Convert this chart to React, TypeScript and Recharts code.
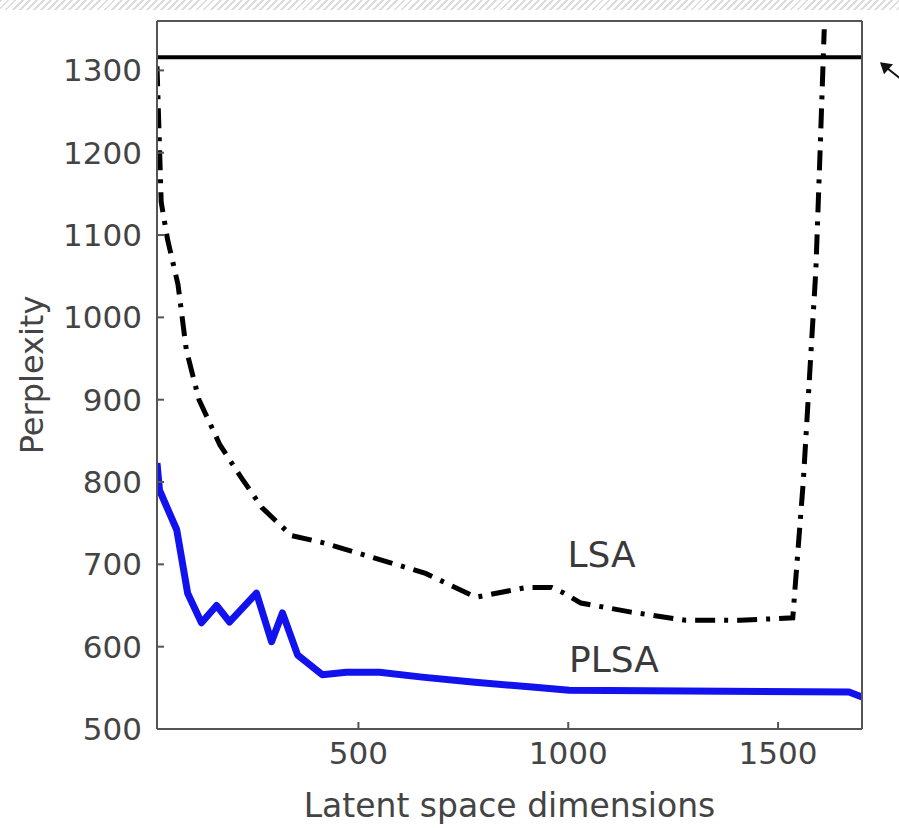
import React from 'react';
import {
  LineChart,
  Line,
  XAxis,
  YAxis,
  ReferenceLine,
  ReferenceDot
} from 'recharts';

// LSA perplexity vs latent space dimensions
const lsaDims = [20, 30, 45, 70, 90, 120, 170, 220, 270, 340, 410, 530, 660, 780, 900, 960, 990, 1030, 1150, 1280, 1410, 1535, 1560, 1590, 1600, 1610];
const lsaPerplexity = [1305, 1140, 1095, 1040, 960, 900, 845, 806, 769, 735, 727, 709, 689, 660, 672, 672, 665, 653, 642, 632, 632, 635, 800, 1057, 1200, 1350];

// PLSA perplexity
const plsaDims = [20, 26, 67, 93, 126, 162, 193, 257, 293, 319, 355, 414, 471, 550, 652, 771, 914, 1002, 1669, 1700];
const plsaPerplexity = [823, 790, 742, 665, 629, 650, 630, 665, 606, 641, 590, 566, 569, 569, 563, 557, 551, 547, 545, 539];

// unigram baseline
const baselinePerplexity = 1316;

const xTicks = [500, 1000, 1500];
const yTicks = [500, 600, 700, 800, 900, 1000, 1100, 1200, 1300];

const lsaData = lsaDims.map((d, i) => ({ dim: d, perplexity: lsaPerplexity[i] }));
const plsaData = plsaDims.map((d, i) => ({ dim: d, perplexity: plsaPerplexity[i] }));

const FONT = '"DejaVu Sans", sans-serif';
const AXIS_COLOR = '#555';
const TEXT_COLOR = '#444';

const tickStyle = { fontSize: 31, fill: TEXT_COLOR, fontFamily: FONT };

const App: React.FC = () => {
  const textMark = (label: string) => (props: any) => (
    <text x={props.cx} y={props.cy} fontSize={36} fill="#3a3a3a" fontFamily={FONT}>
      {label}
    </text>
  );

  const arrow = (props: any) => {
    const { cx, cy } = props;
    const tx = cx + 18;
    const ty = cy + 5;
    return (
      <g>
        <line x1={tx + 6} y1={ty + 5} x2={tx + 40} y2={ty + 32} stroke="#111" strokeWidth={2} />
        <polygon points={`${tx},${ty} ${tx + 13},${ty + 2} ${tx + 4},${ty + 12}`} fill="#111" />
      </g>
    );
  };

  return (
    <div style={{ position: 'absolute', left: 0, top: 0, width: 899, height: 828, background: '#fff' }}>
      <div
        style={{
          position: 'absolute',
          left: 0,
          top: 0,
          width: 899,
          height: 10,
          backgroundImage: 'repeating-linear-gradient(135deg, #ddd 0 2px, #fff 2px 5px)'
        }}
      />
      <div style={{ position: 'absolute', left: 0, top: 0 }}>
        <LineChart width={899} height={828} margin={{ top: 11, right: 27, bottom: 0, left: 0 }}>
          <XAxis
            dataKey="dim"
            type="number"
            domain={[20, 1700]}
            ticks={xTicks}
            interval={0}
            allowDataOverflow
            height={99}
            tickSize={-7}
            tickMargin={20}
            tick={tickStyle}
            axisLine={{ stroke: AXIS_COLOR, strokeWidth: 2 }}
            tickLine={{ stroke: AXIS_COLOR, strokeWidth: 2 }}
            label={{
              content: (p: any) => (
                <text
                  x={p.viewBox.x + p.viewBox.width / 2}
                  y={p.viewBox.y + 88}
                  textAnchor="middle"
                  fontSize={33}
                  fill={TEXT_COLOR}
                  fontFamily={FONT}
                >
                  Latent space dimensions
                </text>
              )
            }}
          />
          <XAxis
            xAxisId="top"
            orientation="top"
            type="number"
            domain={[20, 1700]}
            ticks={xTicks}
            interval={0}
            allowDataOverflow
            height={10}
            tickSize={-7}
            tick={false}
            axisLine={{ stroke: AXIS_COLOR, strokeWidth: 2 }}
            tickLine={{ stroke: AXIS_COLOR, strokeWidth: 2 }}
          />
          <YAxis
            type="number"
            domain={[500, 1360]}
            ticks={yTicks}
            interval={0}
            allowDataOverflow
            width={157}
            tickSize={-7}
            tickMargin={22}
            tick={tickStyle}
            axisLine={{ stroke: AXIS_COLOR, strokeWidth: 2 }}
            tickLine={{ stroke: AXIS_COLOR, strokeWidth: 2 }}
            label={{
              content: (p: any) => {
                const x = p.viewBox.x + 43;
                const y = p.viewBox.y + p.viewBox.height / 2;
                return (
                  <text
                    x={x}
                    y={y}
                    transform={`rotate(-90, ${x}, ${y})`}
                    textAnchor="middle"
                    fontSize={32}
                    fill={TEXT_COLOR}
                    fontFamily={FONT}
                  >
                    Perplexity
                  </text>
                );
              }
            }}
          />
          <YAxis
            yAxisId="right"
            orientation="right"
            type="number"
            domain={[500, 1360]}
            ticks={yTicks}
            interval={0}
            allowDataOverflow
            width={10}
            tickSize={-7}
            tick={false}
            axisLine={{ stroke: AXIS_COLOR, strokeWidth: 2 }}
            tickLine={{ stroke: AXIS_COLOR, strokeWidth: 2 }}
          />

          <ReferenceLine y={baselinePerplexity} stroke="#000" strokeWidth={4} />

          <Line
            data={plsaData}
            dataKey="perplexity"
            type="linear"
            stroke="#1212ee"
            strokeWidth={7}
            strokeLinejoin="round"
            dot={false}
            isAnimationActive={false}
          />
          <Line
            data={lsaData}
            dataKey="perplexity"
            type="linear"
            stroke="#000"
            strokeWidth={5}
            strokeDasharray="20 9 4 9"
            dot={false}
            isAnimationActive={false}
          />

          <ReferenceDot x={998} y={697} r={0} shape={textMark('LSA')} />
          <ReferenceDot x={1002} y={569} r={0} shape={textMark('PLSA')} />
          <ReferenceDot x={1700} y={baselinePerplexity} r={0} shape={arrow} />
        </LineChart>
      </div>
    </div>
  );
};

export default App;
